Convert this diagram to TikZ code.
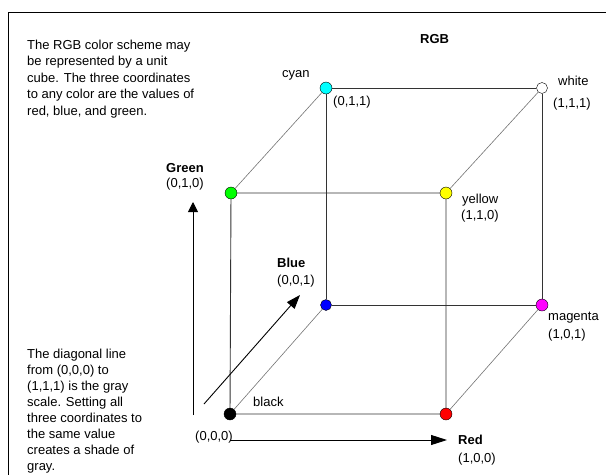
\documentclass[tikz,border=0pt]{standalone}
\usepackage{fontspec}
\setmainfont{Liberation Sans}
\usetikzlibrary{arrows.meta}
\definecolor{dotgreen}{RGB}{0,255,0}
\definecolor{dotcyan}{RGB}{0,255,255}
\definecolor{dotyellow}{RGB}{255,255,0}
\definecolor{dotblue}{RGB}{0,0,255}
\definecolor{dotmagenta}{RGB}{255,0,255}
\definecolor{dotred}{RGB}{255,0,0}

\begin{document}
\begin{tikzpicture}[x=1pt,y=-1pt,font=\fontsize{13}{16.5}\selectfont,
vtx/.style={circle,draw=black,inner sep=0pt,minimum size=12pt},
lbl/.style={anchor=base west,inner sep=0pt},
ttl/.style={lbl,font=\fontsize{13}{16.5}\selectfont\bfseries},
note/.style={anchor=north west,inner sep=0pt,align=left},
edge/.style={draw=black!80,line width=0.9pt},
diag/.style={draw=black!55,line width=0.6pt},
axis/.style={line width=0.9pt,-{Triangle[length=13pt,width=10pt]}}]
\useasboundingbox (0,0) rectangle (606,475);
\draw[line width=1pt] (606,12) -- (8,12) -- (8,475);
\node[note] (intro) at (27,39.4) {The RGB color scheme may\\be represented by a unit\\cube. The three coordinates\\to any color are the values of\\red, blue, and green.};
\node[note,font=\fontsize{13}{16}\selectfont] (grayscale) at (27,348.4) {The diagonal line\\from (0,0,0) to\\(1,1,1) is the gray\\scale. Setting all\\three coordinates to\\the same value\\creates a shade of\\gray.};
\node[ttl] (rgbtitle) at (420,43) {RGB};
\node[vtx,fill=black] (blk) at (230,414) {};
\node[vtx,fill=dotred] (red) at (446,414) {};
\node[vtx,fill=dotgreen] (grn) at (231,193) {};
\node[vtx,fill=dotyellow] (yel) at (446,193) {};
\node[vtx,fill=dotblue,minimum size=11pt] (blu) at (326,305) {};
\node[vtx,fill=dotmagenta] (mag) at (542,305) {};
\node[vtx,fill=dotcyan] (cyn) at (326,88) {};
\node[vtx,fill=white,minimum size=11pt] (wht) at (542,88) {};
\draw[edge] (blk) -- (red) -- (yel) -- (grn) -- (blk);
\draw[edge] (blu) -- (mag) -- (wht) -- (cyn) -- (blu);
\draw[diag] (blk) -- (blu); \draw[diag] (red) -- (mag);
\draw[diag] (grn) -- (cyn); \draw[diag] (yel) -- (wht);
\node[lbl] (cynname) at (282,77) {cyan};
\node[lbl] (cynval) at (333,105) {(0,1,1)};
\node[lbl] (whtname) at (558,85) {white};
\node[lbl] (whtval) at (553,107) {(1,1,1)};
\node[lbl] (yelname) at (462,203) {yellow};
\node[lbl] (yelval) at (461,219) {(1,1,0)};
\node[lbl] (magname) at (548,320) {magenta};
\node[lbl] (magval) at (548,338) {(1,0,1)};
\node[lbl] (blkname) at (253,406) {black};
\node[lbl] (blkval) at (195,440.5) {(0,0,0)};
\node[ttl] (grnaxis) at (166,172.5) {Green};
\node[lbl] (grnval) at (166,187.5) {(0,1,0)};
\node[ttl] (bluaxis) at (277,267.5) {Blue};
\node[lbl] (bluval) at (277,284) {(0,0,1)};
\node[ttl] (redaxis) at (458,444) {Red};
\node[lbl] (redval) at (458,462) {(1,0,0)};
\coordinate (gfrom) at (193,415); \coordinate (gto) at (193,202);
\coordinate (bfrom) at (204,404); \coordinate (bto) at (300,295);
\coordinate (rfrom) at (230,440); \coordinate (rto) at (447,440);
\draw[axis,-{Triangle[length=10pt,width=10pt]}] (gfrom) -- (gto);
\draw[axis,-{Triangle[length=14pt,width=10pt]}] (bfrom) -- (bto);
\draw[axis,-{Triangle[length=16pt,width=10pt]}] (rfrom) -- (rto);
\end{tikzpicture}
\end{document}
